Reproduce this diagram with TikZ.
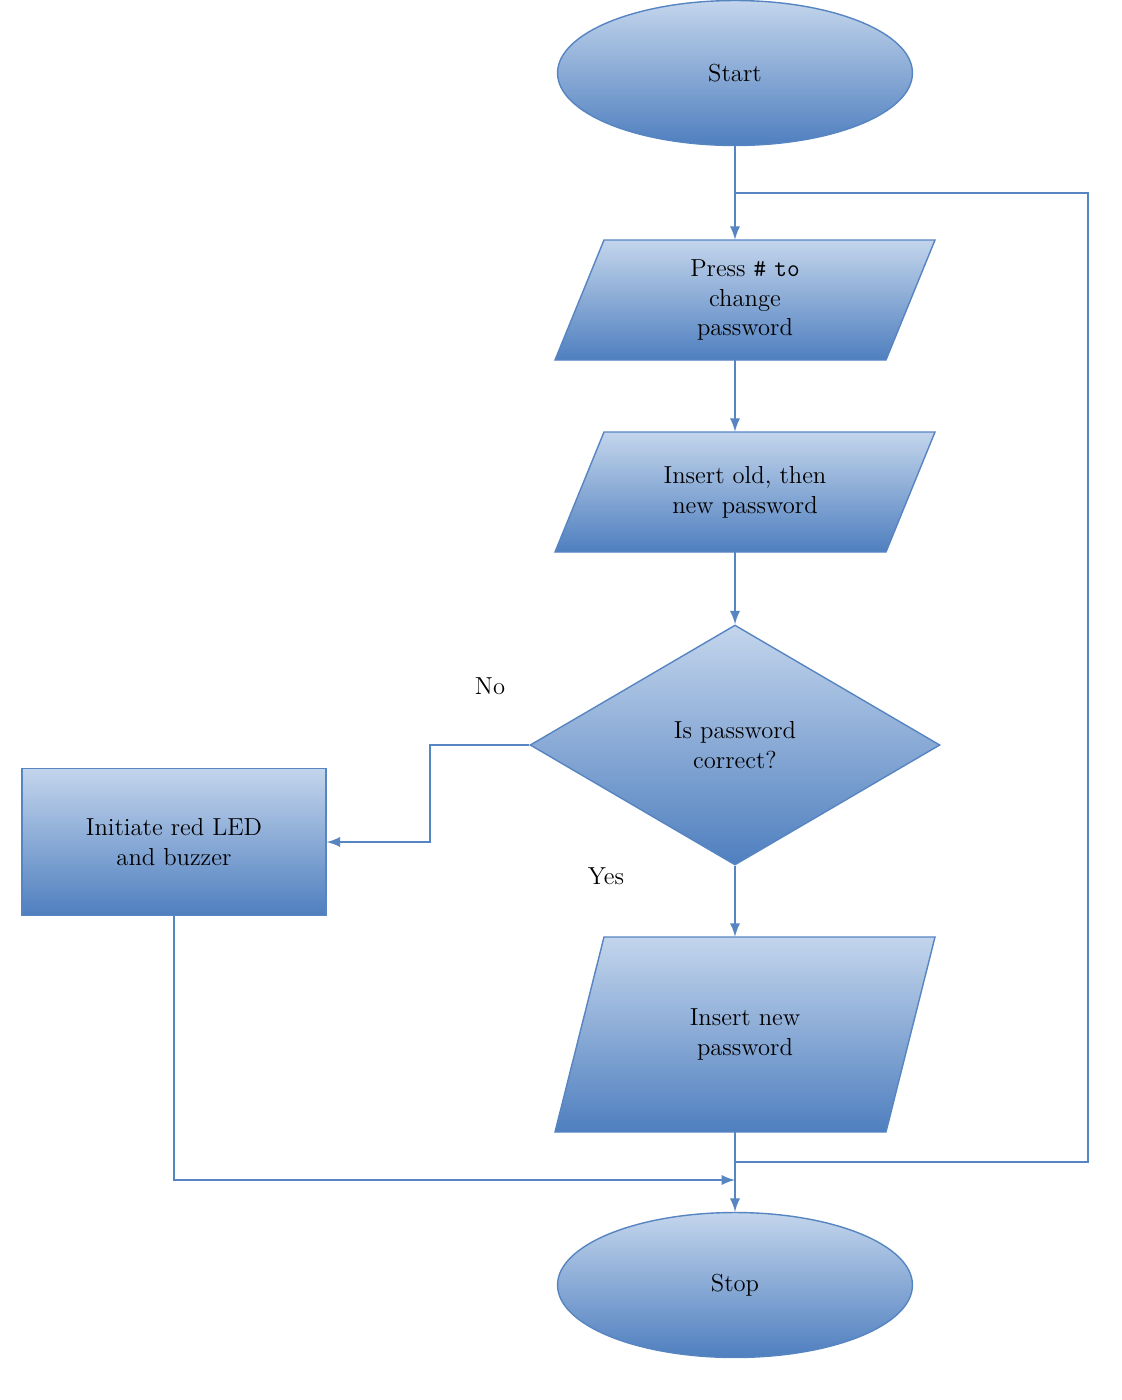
\documentclass[tikz,border=0pt]{standalone}
\usetikzlibrary{shapes.geometric, positioning}
\definecolor{flowline}{HTML}{5685C2}
\definecolor{flowtop}{HTML}{C3D5EC}
\definecolor{flowbot}{HTML}{4F7FBF}
\tikzset{
  box/.style={draw=flowline, thick, top color=flowtop, bottom color=flowbot,
    align=center, font=\fontsize{14}{17}\selectfont, inner sep=2pt},
  term/.style={box, ellipse, minimum width=7.1cm, minimum height=2.9cm},
  iotext/.style={align=center, font=\fontsize{14}{17}\selectfont, inner sep=0pt,
    minimum width=7.56cm},
  link/.style={draw=flowline, line width=1.6pt},
  arr/.style={link, -latex}
}
% Parallelogramm: Name, Mitte x, oben y, unten y, Text
\newcommand{\ionode}[5]{%
  \shade [draw=flowline, thick, top color=flowtop, bottom color=flowbot]
    (#2-141,#3) -- (#2+190,#3) -- (#2+141,#4) -- (#2-190,#4) -- cycle;
  \node [iotext, minimum height={(#4-#3)*0.02cm}] (#1) at (#2,{(#3+#4)/2}) {#5};
}
\begin{document}
\begin{tikzpicture}[x=0.02cm, y=-0.02cm]
  \useasboundingbox (0,0) rectangle (1122,1400);

  %% Knoten
  \node [term] (start) at (735,73) {Start};
  \ionode{press}{745}{240}{360}{Press \texttt{\#} \texttt{to}\\change\\password}
  \ionode{old}{745}{432}{552}{Insert old, then\\new password}
  \node [box, diamond, minimum width=8.2cm, minimum height=4.8cm, aspect=1.7,
    inner sep=0pt] (check) at (735,745) {Is password\\correct?};
  \ionode{new}{745}{937}{1132}{Insert new\\password}
  \node [term] (stop) at (735,1285) {Stop};
  \node [box, rectangle, minimum width=6.08cm, minimum height=2.94cm] (led) at (174,842)
    {Initiate red LED\\and buzzer};

  %% Hilfspunkte
  \coordinate (loopin) at (735,193);
  \coordinate (loopout) at (735,1162);
  \coordinate (merge) at (735,1180);

  %% Verbindungen
  \draw [arr] (start) -- (start.south |- press.north);
  \draw [arr] (start.south |- press.south) -- (start.south |- old.north);
  \draw [arr] (start.south |- old.south) -- (check);
  \draw [arr] (check) -- (start.south |- new.north);
  \draw [arr] (start.south |- new.south) -- (stop);
  \draw [arr] (check.west) -- (430,745) |- (led.east);
  \draw [arr] (led.south) |- (merge);
  \draw [link] (loopout) -- (1088,1162) -- (1088,193) -- (loopin);

  %% Beschriftungen
  \node [font=\fontsize{14}{17}\selectfont] (no) at (490,686) {No};
  \node [font=\fontsize{14}{17}\selectfont] (yes) at (606,876) {Yes};
\end{tikzpicture}
\end{document}
